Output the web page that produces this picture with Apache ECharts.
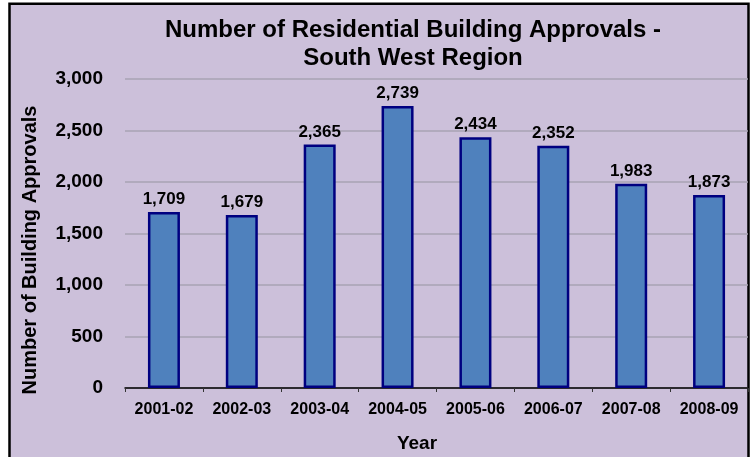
<!DOCTYPE html>
<html>
<head>
<meta charset="utf-8">
<script src="https://cdn.jsdelivr.net/npm/echarts@6/dist/echarts.min.js"></script>
<style>
  html, body { margin: 0; padding: 0; background: #fff; }
  #main { width: 750px; height: 457px; }
</style>
</head>
<body>
<div id="main"></div>
<script>
var years = ['2001-02', '2002-03', '2003-04', '2004-05', '2005-06', '2006-07', '2007-08', '2008-09'];
var approvals = [1709, 1679, 2365, 2739, 2434, 2352, 1983, 1873];
var yTicks = [0, 500, 1000, 1500, 2000, 2500, 3000];

var font = '"Liberation Sans", Arial, sans-serif';
var chart = echarts.init(document.getElementById('main'));

chart.setOption({
  backgroundColor: '#ffffff',
  animation: false,
  textStyle: { fontFamily: font },
  graphic: [
    {
      // chart frame
      type: 'rect', z: -10, silent: true,
      shape: { x: 9.5, y: 3.7, width: 739, height: 500 },
      style: { fill: '#CCC0DA', stroke: '#000000', lineWidth: 2.5 }
    },
    {
      type: 'text',
      x: 413, y: 30.5,
      style: { text: 'Number of Residential Building Approvals -', align: 'center', verticalAlign: 'middle',
        font: 'bold 24px ' + font, fill: '#000' }
    },
    {
      type: 'text',
      x: 413, y: 58,
      style: { text: 'South West Region', align: 'center', verticalAlign: 'middle',
        font: 'bold 24px ' + font, fill: '#000' }
    },
    {
      type: 'text',
      x: 417, y: 444,
      style: { text: 'Year', align: 'center', verticalAlign: 'middle',
        font: 'bold 19px ' + font, fill: '#000' }
    },
    {
      type: 'text',
      x: 30.5, y: 250, rotation: Math.PI / 2,
      style: { text: 'Number of Building Approvals', align: 'center', verticalAlign: 'middle',
        font: 'bold 20px ' + font, fill: '#000' }
    }
  ],
  grid: { left: 125, right: 2, top: 79, bottom: 69 },
  xAxis: {
    type: 'category',
    data: years,
    axisLine: { lineStyle: { color: '#000000', width: 1.5 } },
    axisTick: { show: true, length: 4, lineStyle: { color: '#333' } },
    axisLabel: { interval: 0, margin: 14, color: '#000', fontWeight: 'bold', fontSize: 16 }
  },
  yAxis: {
    type: 'value',
    min: yTicks[0],
    max: yTicks[yTicks.length - 1],
    interval: 500,
    axisLine: { show: false },
    axisTick: { show: false },
    splitLine: { lineStyle: { color: '#A8A3B3', width: 1.5 } },
    axisLabel: {
      margin: 22, color: '#000', fontWeight: 'bold', fontSize: 19,
      formatter: function (v) { return v.toLocaleString('en-US'); }
    }
  },
  series: [
    {
      type: 'bar',
      data: approvals,
      barWidth: 32,
      itemStyle: { color: '#4F81BD', borderColor: '#000080', borderWidth: 2.5 },
      label: {
        show: true, position: 'top', distance: 4,
        color: '#000', fontWeight: 'bold', fontSize: 17,
        formatter: function (p) { return p.value.toLocaleString('en-US'); }
      }
    }
  ]
});
</script>
</body>
</html>
